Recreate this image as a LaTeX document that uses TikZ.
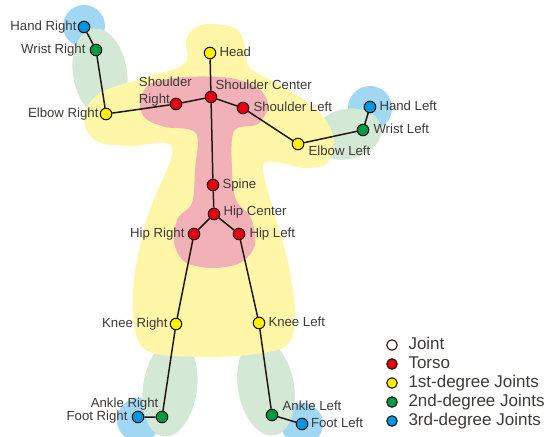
\documentclass[tikz,border=0pt]{standalone}
\usepackage{fontspec}
\setmainfont{Liberation Sans}
\usetikzlibrary{positioning}

\definecolor{boneC}{HTML}{231815}
\definecolor{txtC}{HTML}{3E3A39}
\definecolor{torsoC}{HTML}{E60012}
\definecolor{firstC}{HTML}{FFF100}
\definecolor{secondC}{HTML}{009944}
\definecolor{thirdC}{HTML}{0098DE}
\definecolor{torsoR}{HTML}{F2B1B6}
\definecolor{firstR}{HTML}{FFF6A8}
\definecolor{secondR}{HTML}{D3E8D5}
\definecolor{thirdR}{HTML}{A0D7F3}

\begin{document}
\begin{tikzpicture}[x=1pt, y=-1pt,
  joint/.style={circle, draw=boneC, line width=1.1pt, minimum size=11.5pt, inner sep=0pt},
  blankJ/.style={joint, fill=white},
  torsoJ/.style={joint, fill=torsoC},
  firstJ/.style={joint, fill=firstC},
  secondJ/.style={joint, fill=secondC},
  thirdJ/.style={joint, fill=thirdC},
  bone/.style={draw=boneC, line width=1.5pt},
  lbl/.style={text=txtC, inner sep=1pt, text height=9.5pt, text depth=2.8pt,
    font=\fontsize{13.2}{15}\selectfont},
  keytext/.style={lbl, text height=12pt, text depth=3.5pt, font=\fontsize{17}{19}\selectfont}]

  \useasboundingbox (0,0) rectangle (547,437);

  % 3rd-degree regions
  \fill[thirdR] (84,26) circle (21pt);
  \fill[thirdR] (370,108) circle (22pt);
  \fill[thirdR] (139,420) circle (22pt);
  \fill[thirdR] (302,424) circle (21pt);

  % 2nd-degree regions
  \fill[secondR, rotate around={-81:(100,73)}] (100,73) ellipse (45pt and 27pt);
  \fill[secondR, rotate around={13:(347,134)}] (347,134) ellipse (35pt and 25pt);
  \fill[secondR, rotate around={-98:(170,388)}] (170,388) ellipse (49pt and 27pt);
  \fill[secondR, rotate around={-80:(266,387)}] (266,387) ellipse (49pt and 28pt);

  % 1st-degree region
  \fill[firstR] plot[smooth cycle, tension=0.6] coordinates {
    (214,24) (238,30) (246,50) (250,68) (282,86) (315,108) (333,135)
    (328,162) (305,168) (275,162) (263,168) (274,212) (288,262) (295,312)
    (288,344) (255,354) (200,357) (150,352) (135,330) (134,280) (148,215)
    (172,148) (130,146) (96,141) (84,117) (100,93) (140,79) (184,64)
    (186,40) (196,27)};

  % torso region
  \fill[torsoR] plot[smooth cycle, tension=0.55] coordinates {
    (140,102) (150,84) (185,77) (230,78) (258,88) (268,105) (258,124)
    (234,131) (232,170) (236,200) (251,218) (255,245) (240,263) (212,268)
    (185,262) (174,242) (178,218) (192,203) (195,170) (196,133) (165,127)
    (145,118)};

  % joints
  \node[thirdJ]  (handR)  at (84,27)   {};
  \node[secondJ] (wristR) at (96,50)   {};
  \node[firstJ]  (elbowR) at (106,114) {};
  \node[torsoJ]  (shR)    at (176,104) {};
  \node[torsoJ]  (shC)    at (211,97)  {};
  \node[firstJ]  (head)   at (210,53)  {};
  \node[torsoJ]  (shL)    at (243,108) {};
  \node[firstJ]  (elbowL) at (298,144) {};
  \node[secondJ] (wristL) at (363,130) {};
  \node[thirdJ]  (handL)  at (370,107) {};
  \node[torsoJ]  (spine)  at (213,185) {};
  \node[torsoJ]  (hipC)   at (214,214) {};
  \node[torsoJ]  (hipR)   at (194,234) {};
  \node[torsoJ]  (hipL)   at (239,234) {};
  \node[firstJ]  (kneeR)  at (176,324) {};
  \node[firstJ]  (kneeL)  at (259,323) {};
  \node[secondJ] (ankleR) at (162,417) {};
  \node[thirdJ]  (footR)  at (138,417) {};
  \node[secondJ] (ankleL) at (272,415) {};
  \node[thirdJ]  (footL)  at (302,424) {};

  % bones
  \draw[bone] (handR) -- (wristR) -- (elbowR) -- (shR) -- (shC) -- (shL)
    -- (elbowL) -- (wristL) -- (handL);
  \draw[bone] (head) -- (shC) -- (spine) -- (hipC);
  \draw[bone] (footR) -- (ankleR) -- (kneeR) -- (hipR) -- (hipC) -- (hipL)
    -- (kneeL) -- (ankleL) -- (footL);

  % labels
  \node[lbl, left=0pt of handR]   (handRtxt)  {Hand Right};
  \node[lbl, left=3pt of wristR]  (wristRtxt) {Wrist Right};
  \node[lbl, left=0pt of elbowR]  (elbowRtxt) {Elbow Right};
  \node[lbl, align=left, text height=, text depth=, anchor=south east,
    font=\fontsize{13.2}{16.5}\selectfont] (shRtxt) at (193,107) {Shoulder\\Right};
  \node[lbl, right=2pt of head]   (headtxt)   {Head};
  \node[lbl, above right=-1pt and -1pt of shC] (shCtxt) {Shoulder Center};
  \node[lbl, right=3pt of shL]    (shLtxt)    {Shoulder Left};
  \node[lbl, below right=-4pt and 5pt of elbowL] (elbowLtxt) {Elbow Left};
  \node[lbl, right=3pt of wristL] (wristLtxt) {Wrist Left};
  \node[lbl, right=2pt of handL]  (handLtxt)  {Hand Left};
  \node[lbl, right=2pt of spine]  (spinetxt)  {Spine};
  \node[lbl, right=2pt of hipC, yshift=2pt] (hipCtxt) {Hip Center};
  \node[lbl, left=2pt of hipR]    (hipRtxt)   {Hip Right};
  \node[lbl, right=3pt of hipL]   (hipLtxt)   {Hip Left};
  \node[lbl, left=1pt of kneeR]   (kneeRtxt)  {Knee Right};
  \node[lbl, right=2pt of kneeL]  (kneeLtxt)  {Knee Left};
  \node[lbl, above left=1.5pt and -2pt of ankleR] (ankleRtxt) {Ankle Right};
  \node[lbl, left=3pt of footR]   (footRtxt)  {Foot Right};
  \node[lbl, above right=-3.5pt and 5pt of ankleL] (ankleLtxt) {Ankle Left};
  \node[lbl, right=1.5pt of footL] (footLtxt) {Foot Left};

  % legend
  \foreach \y/\s/\t [count=\i] in {345/blankJ/Joint, 364/torsoJ/Torso,
      383/firstJ/1st-degree Joints, 402/secondJ/2nd-degree Joints,
      421/thirdJ/3rd-degree Joints} {
    \node[\s, minimum size=10.5pt] (key\i) at (392,\y) {};
    \node[keytext, right=9.5pt of key\i] (keytxt\i) {\t};
  }
\end{tikzpicture}
\end{document}
